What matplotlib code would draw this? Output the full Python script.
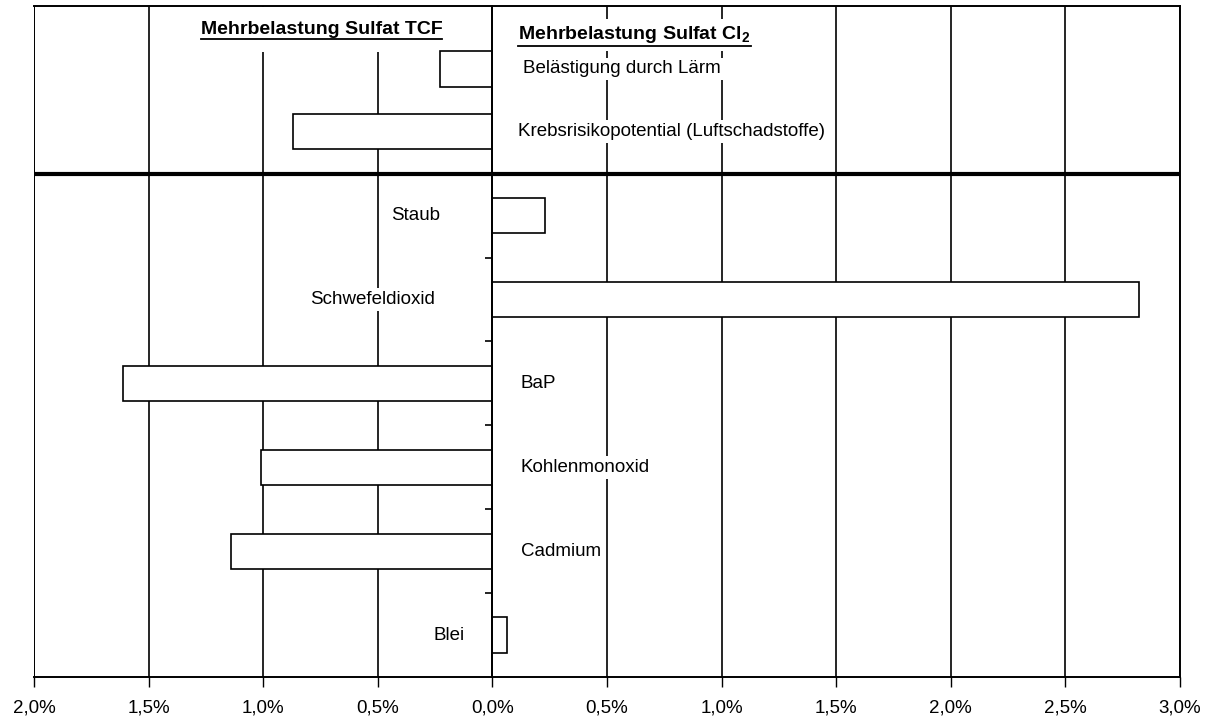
import matplotlib
matplotlib.use("Agg")
import matplotlib.pyplot as plt
from matplotlib.ticker import FuncFormatter, MultipleLocator
from matplotlib.lines import Line2D

plt.rcParams['font.family'] = ['Liberation Sans', 'DejaVu Sans']
plt.rcParams['mathtext.default'] = 'regular'

# values in % (negative = Mehrbelastung TCF, positive = Mehrbelastung Cl2)
categories = ["Blei", "Cadmium", "Kohlenmonoxid", "BaP", "Schwefeldioxid", "Staub",
              "Krebsrisikopotential (Luftschadstoffe)", "Belästigung durch Lärm"]
values = [0.065, -1.14, -1.01, -1.61, 2.82, 0.23, -0.87, -0.23]
title_tcf = "Mehrbelastung Sulfat TCF"
title_cl2 = "Mehrbelastung Sulfat Cl$_2$"

# layout: lower block 6 rows, upper block 2 rows above the thick line
ypos = [0, 1, 2, 3, 4, 5, 6.0, 6.75]
# where each label sits (x in %, alignment)
label_x = [-0.12, 0.125, 0.125, 0.125, -0.25, -0.23, 0.11, 0.135]
label_ha = ["right", "left", "left", "left", "right", "right", "left", "left"]

fig = plt.figure(figsize=(12.13, 7.2), dpi=100)
ax = fig.add_axes([0.028, 0.0597, 0.9447, 0.932])

ax.set_xlim(-2, 3)
ax.set_ylim(-0.5, 7.5)

ax.barh(ypos, values, height=0.42, color="white", edgecolor="black",
        linewidth=1.2, zorder=3)

ax.xaxis.set_major_locator(MultipleLocator(0.5))
ax.xaxis.set_major_formatter(FuncFormatter(lambda v, p: f"{abs(v):.1f}%".replace(".", ",")))
ax.grid(axis="x", color="black", linewidth=1.2, zorder=1)
ax.set_axisbelow(True)
ax.tick_params(axis="x", direction="out", length=7, width=1, pad=9, labelsize=13.5)

# category axis sits at zero
ax.spines["left"].set_position(("data", 0))
ax.spines["left"].set_linewidth(1.4)
ax.spines["left"].set_zorder(4)
ax.set_yticks([0.5, 1.5, 2.5, 3.5, 4.5])
ax.set_yticklabels([])
ax.tick_params(axis="y", direction="out", length=5, width=1.2)
for s in ["top", "right", "bottom"]:
    ax.spines[s].set_linewidth(1.4)
ax.axvline(ax.get_xlim()[0], color="black", linewidth=1.4, zorder=4)

# separator between the two blocks
ax.axhline(5.5, color="black", linewidth=3, zorder=4)

for cat, y, lx, ha in zip(categories, ypos, label_x, label_ha):
    ax.text(lx, y, cat, ha=ha, va="center", fontsize=13.5, zorder=5,
            bbox=dict(facecolor="white", edgecolor="none", pad=2))

# titles sit above the grid but under the bars
t1 = ax.text(-0.745, 0.965, title_tcf, transform=ax.get_xaxis_transform(),
             ha="center", va="center", fontsize=14, fontweight="bold", zorder=2,
             bbox=dict(facecolor="white", edgecolor="none", pad=10))
t2 = ax.text(0.113, 0.957, title_cl2, transform=ax.get_xaxis_transform(),
             ha="left", va="center", fontsize=14, fontweight="bold", zorder=2,
             bbox=dict(facecolor="white", edgecolor="none", pad=4))

# underline both titles
fig.canvas.draw()
r = fig.canvas.get_renderer()
W, H = fig.bbox.width, fig.bbox.height
for t in (t1, t2):
    bb = t.get_window_extent(r)
    y = bb.y0 - 1
    fig.add_artist(Line2D([bb.x0 / W, bb.x1 / W], [y / H, y / H],
                          color="black", linewidth=1.3, zorder=6))

fig.savefig("out.png", dpi=100)
